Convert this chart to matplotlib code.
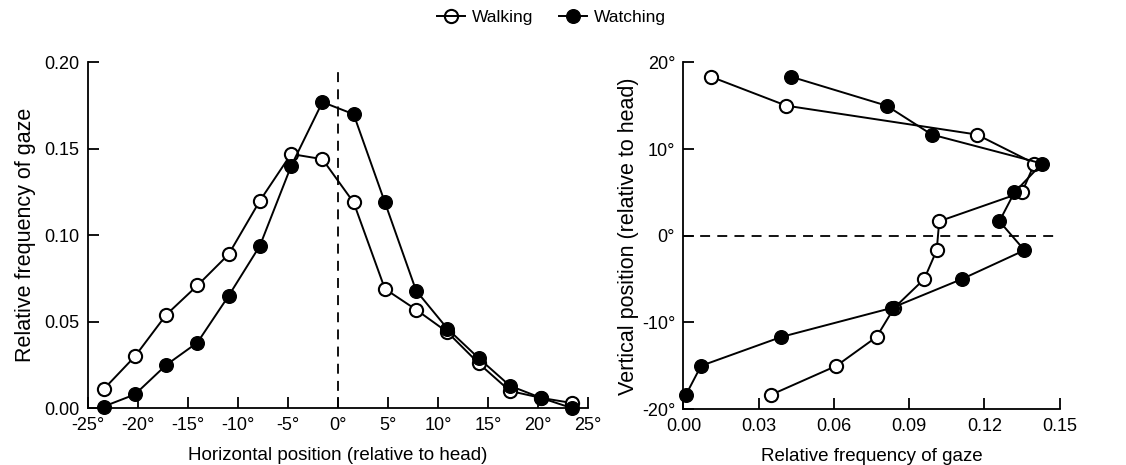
import numpy as np
import matplotlib.pyplot as plt
from matplotlib.lines import Line2D

plt.rcParams['font.family'] = ['Liberation Sans', 'DejaVu Sans']

# horizontal gaze distribution (bin centres, degrees)
h_pos = np.array([-23.44, -20.31, -17.19, -14.06, -10.94, -7.81, -4.69, -1.56,
                  1.56, 4.69, 7.81, 10.94, 14.06, 17.19, 20.31, 23.44])
h_walking = [0.011, 0.030, 0.054, 0.071, 0.089, 0.120, 0.147, 0.144,
             0.119, 0.069, 0.057, 0.044, 0.026, 0.010, 0.006, 0.003]
h_watching = [0.001, 0.008, 0.025, 0.038, 0.065, 0.094, 0.140, 0.177,
              0.170, 0.119, 0.068, 0.046, 0.029, 0.013, 0.006, 0.000]

# vertical gaze distribution
v_pos = np.array([18.33, 15.0, 11.67, 8.33, 5.0, 1.67,
                  -1.67, -5.0, -8.33, -11.67, -15.0, -18.33])
v_walking = [0.011, 0.041, 0.117, 0.140, 0.135, 0.102,
             0.101, 0.096, 0.084, 0.077, 0.061, 0.035]
v_watching = [0.043, 0.081, 0.099, 0.143, 0.132, 0.126,
              0.136, 0.111, 0.083, 0.039, 0.007, 0.001]

h_ticks = [-25, -20, -15, -10, -5, 0, 5, 10, 15, 20, 25]
v_ticks = [-20, -10, 0, 10, 20]
f_ticks = [0.00, 0.03, 0.06, 0.09, 0.12, 0.15]

fig = plt.figure(figsize=(11.26, 4.65), dpi=100)
ax1 = fig.add_axes([0.0782, 0.122, 0.444, 0.744])
ax2 = fig.add_axes([0.607, 0.120, 0.334, 0.746])

walk = dict(color='k', lw=1.4, marker='o', ms=9.5, mfc='white', mec='k', mew=1.5)
watch = dict(color='k', lw=1.4, marker='o', ms=9.8, mfc='k', mec='k', mew=1.0)

# left panel
ax1.plot([0, 0], [0, 0.197], 'k--', lw=1.3, dashes=(5.5, 4), zorder=1)
ax1.plot(h_pos, h_walking, zorder=3, clip_on=False, **walk)
ax1.plot(h_pos, h_watching, zorder=4, clip_on=False, **watch)
ax1.set_xlim(-25, 25)
ax1.set_ylim(0, 0.2)
ax1.set_xticks(h_ticks)
ax1.set_xticklabels(['%d°' % t for t in h_ticks])
ax1.set_yticks([0, 0.05, 0.10, 0.15, 0.20])
ax1.set_yticklabels(['0.00', '0.05', '0.10', '0.15', '0.20'])
ax1.set_xlabel('Horizontal position (relative to head)', fontsize=13.5, labelpad=10)
ax1.set_ylabel('Relative frequency of gaze', fontsize=15.5, labelpad=6)

# right panel
ax2.plot([0, 0.149], [0, 0], 'k--', lw=1.3, dashes=(5.5, 4), zorder=1)
ax2.plot(v_walking, v_pos, zorder=3, clip_on=False, **walk)
ax2.plot(v_watching, v_pos, zorder=4, clip_on=False, **watch)
ax2.set_xlim(0, 0.15)
ax2.set_ylim(-20, 20)
ax2.set_xticks(f_ticks)
ax2.set_xticklabels(['%.2f' % t for t in f_ticks])
ax2.set_yticks(v_ticks)
ax2.set_yticklabels(['%d°' % t for t in v_ticks])
ax2.set_xlabel('Relative frequency of gaze', fontsize=13.5, labelpad=10)
ax2.set_ylabel('Vertical position (relative to head)', fontsize=15.5, labelpad=2)

for ax in (ax1, ax2):
    ax.spines['top'].set_visible(False)
    ax.spines['right'].set_visible(False)
    ax.spines['left'].set_linewidth(1.3)
    ax.spines['bottom'].set_linewidth(1.3)
    ax.tick_params(direction='in', length=8, width=1.3, labelsize=13, pad=6)

# legend: line runs through the open circle
h1 = Line2D([], [], color='k', lw=1.4, marker='o', ms=9.5, mfc='none', mec='k', mew=1.5)
h2 = Line2D([], [], **watch)
fig.legend(handles=[h1, h2], labels=['Walking', 'Watching'], loc='upper center',
           bbox_to_anchor=(0.49, 1.012), ncol=2, frameon=False, fontsize=12.5,
           handlelength=1.6, handletextpad=0.4, columnspacing=1.5)

fig.savefig('out.png', dpi=100)
